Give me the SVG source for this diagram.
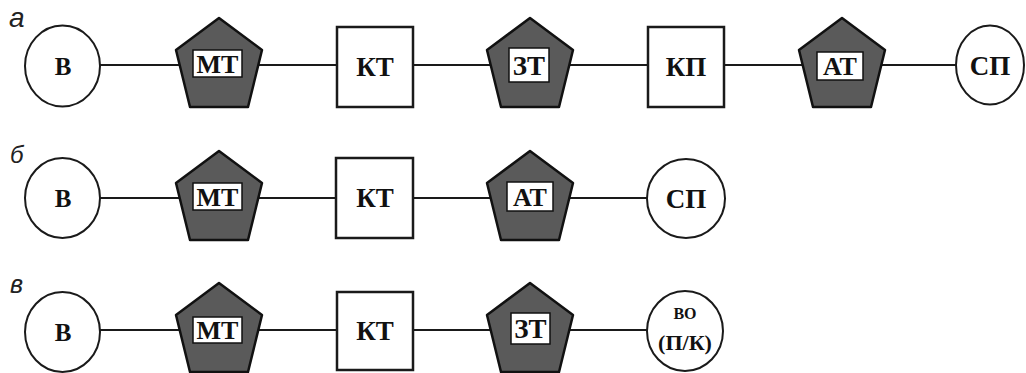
<svg xmlns="http://www.w3.org/2000/svg" width="1026" height="373" viewBox="0 0 1026 373">
<defs>
<style>
.bg{fill:#ffffff}
.edge{stroke:#1a1a1a;stroke-width:2;fill:none}
.circ{fill:#ffffff;stroke:#1a1a1a;stroke-width:2}
.sq{fill:#ffffff;stroke:#1a1a1a;stroke-width:2.5}
.pent{fill:#5a5a5a;stroke:#111111;stroke-width:2.5;stroke-linejoin:round}
.lbox{fill:#ffffff;stroke:#111111;stroke-width:1.5}
.t{font-family:"Liberation Serif","Times New Roman",serif;font-weight:bold;fill:#111111;text-anchor:middle}
.row{font-family:"Liberation Sans",Arial,sans-serif;font-style:italic;fill:#222222}
</style>
<polygon id="pg" points="0,0 43,32 29,89 -29,89 -43,32"/>
</defs>
<rect class="bg" x="0" y="0" width="1026" height="373"/>

<g id="connectors">
<line class="edge" x1="100" y1="65" x2="180" y2="65"/>
<line class="edge" x1="258" y1="65" x2="337" y2="65"/>
<line class="edge" x1="413" y1="65" x2="492" y2="65"/>
<line class="edge" x1="568" y1="65" x2="648" y2="65"/>
<line class="edge" x1="724" y1="65" x2="803" y2="65"/>
<line class="edge" x1="880" y1="65" x2="957" y2="65"/>

<line class="edge" x1="100" y1="198" x2="180" y2="198"/>
<line class="edge" x1="258" y1="198" x2="336" y2="198"/>
<line class="edge" x1="413" y1="198" x2="492" y2="198"/>
<line class="edge" x1="568" y1="198" x2="647" y2="198"/>

<line class="edge" x1="100" y1="330" x2="180" y2="330"/>
<line class="edge" x1="258" y1="330" x2="337" y2="330"/>
<line class="edge" x1="413" y1="330" x2="492" y2="330"/>
<line class="edge" x1="568" y1="330" x2="647" y2="330"/>
</g>

<text class="row" x="9" y="27" font-size="28">а</text>
<text class="row" x="10" y="163" font-size="24">б</text>
<text class="row" x="10" y="293" font-size="25">в</text>

<!-- Row a -->
<g id="a-B"><ellipse class="circ" cx="62.5" cy="66" rx="37.5" ry="40.5"/><text class="t" x="63" y="75" font-size="25">В</text></g>
<g id="a-MT"><use href="#pg" class="pent" x="219" y="18"/><rect class="lbox" x="193" y="50" width="49" height="27"/><text class="t" x="217.5" y="73" font-size="26">МТ</text></g>
<g id="a-KT"><rect class="sq" x="337" y="27" width="76" height="80"/><text class="t" x="375" y="76" font-size="27">КТ</text></g>
<g id="a-ZT"><use href="#pg" class="pent" x="530" y="18"/><rect class="lbox" x="509" y="48" width="40" height="34"/><text class="t" x="529" y="75" font-size="27">ЗТ</text></g>
<g id="a-KP"><rect class="sq" x="648" y="27" width="76" height="80"/><text class="t" x="686" y="76" font-size="27">КП</text></g>
<g id="a-AT"><use href="#pg" class="pent" x="842" y="18"/><rect class="lbox" x="817" y="52" width="46" height="28"/><text class="t" x="840" y="75" font-size="26">АТ</text></g>
<g id="a-SP"><ellipse class="circ" cx="990" cy="65" rx="34" ry="39.5"/><text class="t" x="990" y="75" font-size="27">СП</text></g>

<!-- Row b -->
<g id="b-B"><ellipse class="circ" cx="62.5" cy="198" rx="37.5" ry="40"/><text class="t" x="63" y="207" font-size="25">В</text></g>
<g id="b-MT"><use href="#pg" class="pent" x="219" y="151"/><rect class="lbox" x="193" y="183" width="49" height="27"/><text class="t" x="217.5" y="206" font-size="26">МТ</text></g>
<g id="b-KT"><rect class="sq" x="336" y="158" width="77" height="80"/><text class="t" x="375" y="207" font-size="27">КТ</text></g>
<g id="b-AT"><use href="#pg" class="pent" x="530" y="151"/><rect class="lbox" x="507" y="182" width="46" height="29"/><text class="t" x="530" y="206" font-size="26">АТ</text></g>
<g id="b-SP"><ellipse class="circ" cx="686" cy="198.5" rx="39" ry="39.5"/><text class="t" x="686" y="208" font-size="27">СП</text></g>

<!-- Row v -->
<g id="v-B"><ellipse class="circ" cx="62.5" cy="332" rx="37.5" ry="40"/><text class="t" x="63" y="341" font-size="25">В</text></g>
<g id="v-MT"><use href="#pg" class="pent" x="219" y="283"/><rect class="lbox" x="193" y="317" width="49" height="26"/><text class="t" x="217.5" y="339" font-size="26">МТ</text></g>
<g id="v-KT"><rect class="sq" x="337" y="292" width="76" height="78"/><text class="t" x="375" y="340" font-size="27">КТ</text></g>
<g id="v-ZT"><use href="#pg" class="pent" x="530" y="283"/><rect class="lbox" x="511" y="313" width="39" height="31"/><text class="t" x="530.5" y="338" font-size="27">ЗТ</text></g>
<g id="v-VO"><ellipse class="circ" cx="685" cy="331" rx="38" ry="40"/><text class="t" x="685" y="319" font-size="16">ВО</text><text class="t" x="685" y="350" font-size="22">(П/К)</text></g>
</svg>
